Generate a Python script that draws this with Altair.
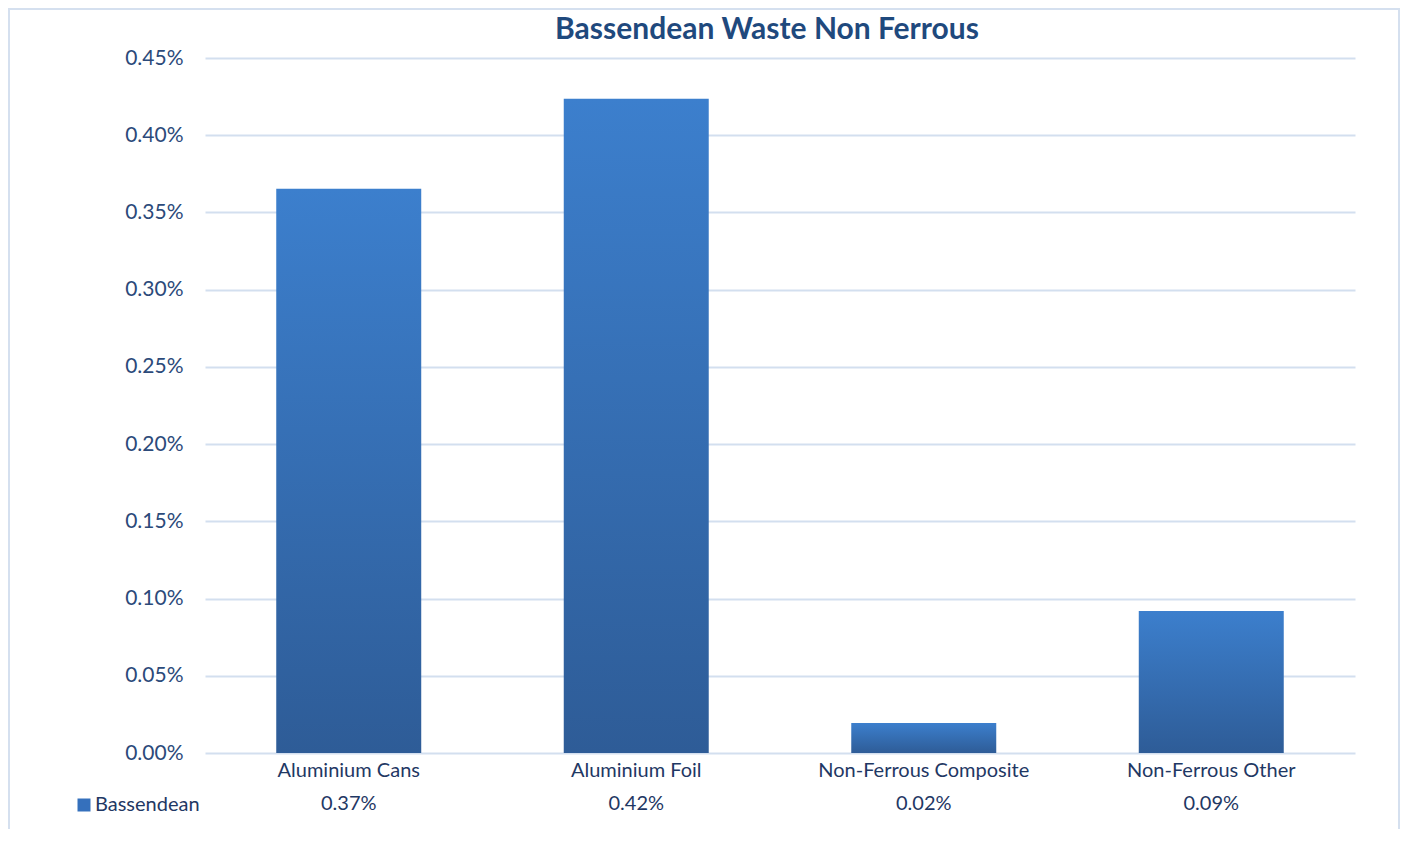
import altair as alt
import pandas as pd

categories = ["Aluminium Cans", "Aluminium Foil", "Non-Ferrous Composite", "Non-Ferrous Other"]
values = [0.003653, 0.004236, 0.000194, 0.000920]
series = ["Bassendean"] * 4
y_ticks = [0, 0.0005, 0.001, 0.0015, 0.002, 0.0025, 0.003, 0.0035, 0.004, 0.0045]
title_text = ["Bassendean Waste Non Ferrous"]

df = pd.DataFrame({"category": categories, "value": values, "series": series})

FONT = "Lato"
W, H = 1150, 695

x_enc = alt.X(
    "category:N", sort=categories, title=None,
    scale=alt.Scale(paddingInner=0.4957, paddingOuter=0.2478),
    axis=alt.Axis(labelAngle=0, labelFontSize=20, labelColor="#1F3864", labelFont=FONT,
                  labelPadding=7, labelLimit=0, ticks=False, domain=False, grid=False),
)
y_enc = alt.Y(
    "value:Q", title=None,
    scale=alt.Scale(domain=[0, 0.0045], nice=False),
    axis=alt.Axis(values=y_ticks, format=".2%", labelFontSize=21, labelColor="#2C4A7A",
                  labelFont=FONT, labelPadding=22, ticks=False, domain=False,
                  grid=True, gridColor="#D3DFEF", gridWidth=1.8),
)

gradient = alt.LinearGradient(
    gradient="linear", x1=0, y1=0, x2=0, y2=1,
    stops=[alt.GradientStop(color="#3C7FCD", offset=0),
           alt.GradientStop(color="#2E5C97", offset=1)],
)

bars = alt.Chart(df).mark_bar(color=gradient).encode(x=x_enc, y=y_enc)

legend_layer = alt.Chart(df).mark_square(opacity=0).encode(
    x=alt.X("category:N", sort=categories),
    y=alt.Y("value:Q"),
    color=alt.Color(
        "series:N",
        scale=alt.Scale(range=["#3570BC"]),
        legend=alt.Legend(orient="none", legendX=-131, legendY=737, title=None,
                          symbolType="square", symbolSize=169, symbolOpacity=1,
                          symbolStrokeWidth=0, labelFontSize=20, labelFont=FONT,
                          labelColor="#1F3864", labelOffset=1, padding=0),
    ),
)

value_text = alt.Chart(df).mark_text(
    fontSize=20, font=FONT, color="#1F3864", baseline="middle"
).encode(
    x=alt.X("category:N", sort=categories),
    y=alt.value(H + 51),
    text=alt.Text("value:Q", format=".2%"),
)

title = alt.Chart(pd.DataFrame({"t": title_text})).mark_text(
    fontSize=30, font=FONT, fontWeight="bold", color="#1F497D", baseline="alphabetic"
).encode(x=alt.value(562), y=alt.value(-19), text="t:N")

border = alt.Chart(pd.DataFrame({"t": title_text})).mark_rect(
    fill=None, stroke="#D5E0EF", strokeWidth=2
).encode(x=alt.value(-196), x2=alt.value(1194), y=alt.value(-49), y2=alt.value(840))

chart = alt.layer(border, bars, legend_layer, value_text, title).properties(
    width=W, height=H,
    autosize=alt.AutoSizeParams(type="none"),
    padding={"left": 197, "top": 50, "right": 46, "bottom": 76},
).configure(background="white").configure_view(stroke=None)

chart.save("out.html", embed_options={"renderer": "svg", "actions": False})
